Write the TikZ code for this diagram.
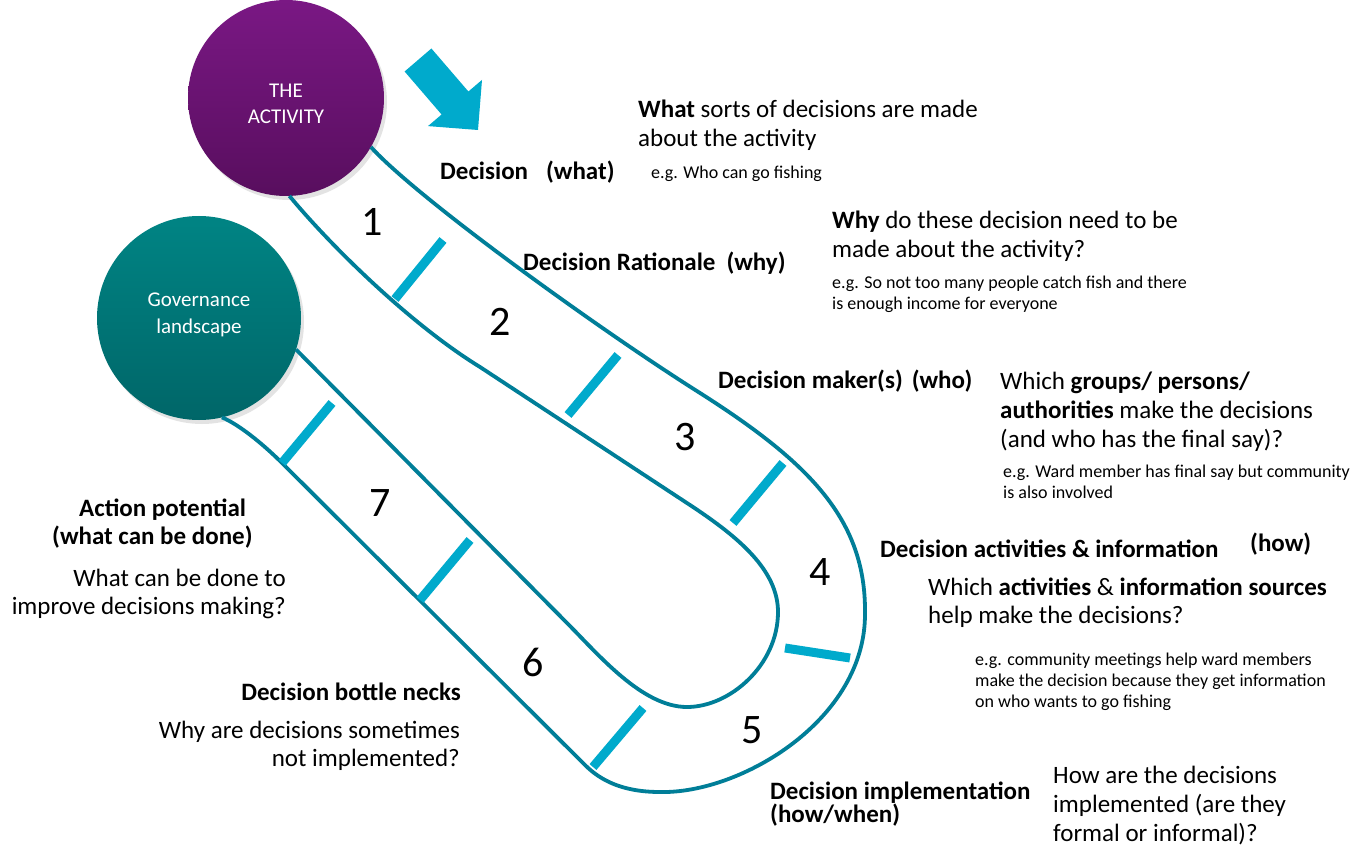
\documentclass[tikz,border=0pt]{standalone}
\usepackage{fontspec}
\setmainfont{Carlito}
\usetikzlibrary{shadows}

\definecolor{tubeline}{RGB}{0,126,152}
\definecolor{tickcyan}{RGB}{0,170,204}
\definecolor{actTop}{RGB}{122,24,132}
\definecolor{actBot}{RGB}{88,14,94}
\definecolor{govTop}{RGB}{0,132,132}
\definecolor{govBot}{RGB}{0,102,104}

\begin{document}
\begin{tikzpicture}[x=1pt,y=-1pt,
  body/.style={inner sep=0pt, anchor=base west, font=\fontsize{25}{30}\selectfont},
  bodyr/.style={body, anchor=base east},
  lbl/.style={inner sep=0pt, anchor=base west, font=\fontsize{25}{30}\selectfont\bfseries},
  note/.style={inner sep=0pt, anchor=base west, font=\fontsize{18}{21}\selectfont},
  num/.style={inner sep=0pt, font=\fontsize{42}{50}\selectfont},
  tube/.style={draw=tubeline, line width=3.8pt, line join=round},
  tick/.style={draw=tickcyan, line width=9pt},
  bubble/.style={circle, inner sep=0pt, outer sep=0pt,
    drop shadow={opacity=0.22, shadow xshift=3pt, shadow yshift=-4pt}},
  bubbletext/.style={inner sep=0pt, align=center, text=white,
    font=\fontsize{21}{26.5}\selectfont}
]
\useasboundingbox (0,0) rectangle (1369,845);
\fill[white] (0,0) rectangle (1369,845);

% the two start/end circles
\node[bubble, minimum size=196pt, top color=actTop, bottom color=actBot] (act) at (286,98) {};
\node[bubble, minimum size=204pt, top color=govTop, bottom color=govBot] (gov) at (199,318) {};
\node[bubbletext] (actlbl) at (286,104) {THE\\ACTIVITY};
\node[bubbletext] (govlbl) at (199,315) {Governance\\landscape};

% outer edge of the decision path
\draw[tube] (act.-30)
  .. controls (417,198) and (600,330) .. (700,393)
  .. controls (810,463) and (866,520) .. (865,613)
  .. controls (866,720) and (740,794) .. (660,792)
  .. controls (622,792) and (600,780) .. (585,765)
  -- (282,463)
  .. controls (262,443) and (238,424) .. (gov.-77.5);

% inner edge of the decision path
\draw[tube] (act.-88)
  .. controls (330,245) and (410,324) .. (480,367)
  -- (693,507)
  .. controls (738,537) and (778,570) .. (778,612)
  .. controls (778,665) and (730,707) .. (687,707)
  .. controls (642,707) and (598,654) .. (567,623)
  -- (gov.-18);

% separators between the steps
\draw[tick] (443,240) -- (395,299);
\draw[tick] (618,355) -- (568,415);
\draw[tick] (783,463) -- (733,523);
\draw[tick] (785,648) -- (850,658);
\draw[tick] (643,708) -- (593,767);
\draw[tick] (470,540) -- (420,600);
\draw[tick] (332,403) -- (282,463);

% step numbers
\node[num] (n1) at (372,222) {1};
\node[num] (n2) at (500,322) {2};
\node[num] (n3) at (685,437) {3};
\node[num] (n4) at (820,572) {4};
\node[num] (n5) at (752,730) {5};
\node[num] (n6) at (533,662) {6};
\node[num] (n7) at (380,503) {7};

% direction arrow
\fill[tickcyan] (431.4,48.5) -- (468.4,91.5) -- (482,79.9) -- (478,130)
  -- (428,126.1) -- (441.6,114.5) -- (404.6,71.5) -- cycle;

% step 1
\node[lbl] (dwhat) at (440,180) {Decision\hspace{18pt}(what)};
\node[body] (qwhat1) at (638,118) {\textbf{What} sorts of decisions are made};
\node[body] (qwhat2) at (638,147) {about the activity};
\node[note] (ewhat) at (651,179) {e.g. Who can go fishing};

% step 2
\node[lbl] (dwhy) at (523,271) {Decision Rationale\hspace{11pt}(why)};
\node[body] (qwhy1) at (832,229) {\textbf{Why} do these decision need to be};
\node[body] (qwhy2) at (832,258) {made about the activity?};
\node[note] (ewhy1) at (832,288) {e.g. So not too many people catch fish and there};
\node[note] (ewhy2) at (832,309) {is enough income for everyone};

% step 3
\node[lbl] (dwho) at (718,388) {Decision maker(s)\hspace{9pt}(who)};
\node[body] (qwho1) at (1000,389) {Which \textbf{groups/ persons/}};
\node[body] (qwho2) at (1000,418) {\textbf{authorities} make the decisions};
\node[body] (qwho3) at (1000,447) {(and who has the final say)?};
\node[note] (ewho1) at (1003,477) {e.g. Ward member has final say but community};
\node[note] (ewho2) at (1003,498) {is also involved};

% step 4
\node[lbl] (dhow) at (880,557) {Decision activities \& information};
\node[lbl] (dhowtag) at (1250,551) {(how)};
\node[body] (qhow1) at (928,595) {Which \textbf{activities} \& \textbf{information sources}};
\node[body] (qhow2) at (928,623) {help make the decisions?};
\node[note] (ehow1) at (975,665) {e.g. community meetings help ward members};
\node[note] (ehow2) at (975,686) {make the decision because they get information};
\node[note] (ehow3) at (975,707) {on who wants to go fishing};

% step 5
\node[lbl] (dimp1) at (770,799) {Decision implementation};
\node[lbl] (dimp2) at (770,822) {(how/when)};
\node[body] (qimp1) at (1053,783) {How are the decisions};
\node[body] (qimp2) at (1053,812) {implemented (are they};
\node[body] (qimp3) at (1053,841) {formal or informal)?};

% step 6
\node[lbl, anchor=base east] (dbot) at (461,700) {Decision bottle necks};
\node[bodyr] (qbot1) at (460,738) {Why are decisions sometimes};
\node[bodyr] (qbot2) at (460,766) {not implemented?};

% step 7
\node[lbl] (dact1) at (79,516) {Action potential};
\node[lbl] (dact2) at (52,544) {(what can be done)};
\node[bodyr] (qact1) at (286,586) {What can be done to};
\node[bodyr] (qact2) at (286,614) {improve decisions making?};
\end{tikzpicture}
\end{document}
